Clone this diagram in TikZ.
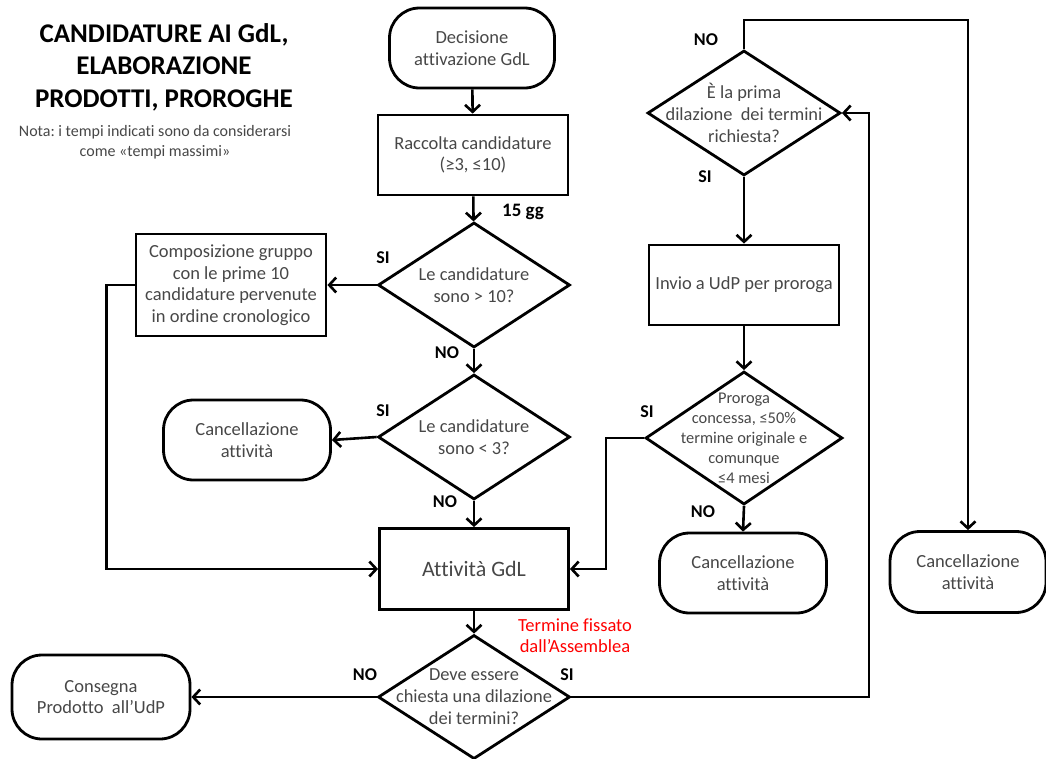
\documentclass[tikz,border=0pt]{standalone}
\usepackage{fontspec}
\setmainfont{Carlito}[Ligatures=NoCommon]
\frenchspacing
\usetikzlibrary{arrows.meta,shapes.geometric}
\tikzset{box/.style={draw,line width=2.8pt,align=center,text=black!72,font=\fontsize{18.5}{21.5}\selectfont,inner sep=2pt},term/.style={box,rounded corners=30pt},decision/.style={diamond,draw,line width=2.8pt,inner sep=0pt},dtext/.style={align=center,text=black!72,font=\fontsize{18.4}{22}\selectfont},edge/.style={-{Straight Barb[length=7pt,width=15pt]},line width=2.6pt},tag/.style={font=\fontsize{18}{20}\selectfont\bfseries}}

\begin{document}
\begin{tikzpicture}[x=1pt,y=-1pt]
\useasboundingbox (0,0) rectangle (1046,758);
% titolo e nota
\node[align=center,font=\fontsize{27}{32.5}\selectfont\bfseries] (title) at (164,67) {CANDIDATURE AI GdL,\\ELABORAZIONE\\PRODOTTI, PROROGHE};
\node[align=center,text=black!72,font=\fontsize{16}{20}\selectfont] (nota) at (155,142) {Nota: i tempi indicati sono da considerarsi\\come «tempi massimi»};
% colonna centrale
\node[term,minimum width=165pt,minimum height=80pt] (dec) at (472,48) {Decisione\\attivazione GdL};
\node[box,minimum width=190pt,minimum height=80pt] (racc) at (473,155) {Raccolta candidature\\(≥3, ≤10)};
\node[decision,minimum width=192pt,minimum height=125pt,label={[dtext]center:{Le candidature\\sono > 10?}}] (q1) at (474,285) {};
\node[box,minimum width=190pt,minimum height=102pt] (comp) at (231,285) {Composizione gruppo\\con le prime 10\\candidature pervenute\\in ordine cronologico};
\node[decision,minimum width=192pt,minimum height=125pt,label={[dtext]center:{Le candidature\\sono < 3?}}] (q2) at (474,437) {};
\node[term,minimum width=167pt,minimum height=80pt] (canc1) at (247,440) {Cancellazione\\attività};
\node[box,minimum width=189pt,minimum height=81pt,font=\fontsize{22}{25}\selectfont] (att) at (474,569) {Attività GdL};
\node[align=center,text=red,font=\fontsize{18.5}{21}\selectfont] (term) at (575,636) {Termine fissato\\dall'Assemblea};
\node[decision,minimum width=192pt,minimum height=124pt,label={[dtext]center:{Deve essere\\chiesta una dilazione\\dei termini?}}] (q3) at (474,697) {};
\node[term,minimum width=178pt,minimum height=84pt] (cons) at (101,697) {Consegna\\Prodotto~ all'UdP};
% colonna destra
\node[decision,minimum width=193pt,minimum height=125pt,label={[dtext]center:{È la prima\\dilazione~ dei termini\\richiesta?}}] (q4) at (744,113) {};
\node[box,minimum width=190pt,minimum height=80pt] (invio) at (744,285) {Invio a UdP per proroga};
\node[decision,minimum width=197pt,minimum height=133pt,label={[dtext,font=\fontsize{16.4}{20}\selectfont]center:{Proroga\\concessa, ≤50\%\\termine originale e\\comunque\\≤4 mesi}}] (q5) at (744,438) {};
\node[term,minimum width=167pt,minimum height=80pt] (canc2) at (743,573) {Cancellazione\\attività};
\node[term,minimum width=156pt,minimum height=81pt] (canc3) at (968,572) {Cancellazione\\attività};
% collegamenti
\draw[edge] (dec)--(racc);
\draw[edge] (racc)--(q1);
\draw[edge] (q1.west)--(comp.east);
\draw[edge] (comp.west)--++(-28,0)|-(att.west);
\draw[edge] (q1.south)--(q2.north);
\draw[edge] (q2.west)--(canc1.east);
\draw[edge] (q2.south)--(att.north);
\draw[edge] (att.south)--(q3.north);
\draw[edge] (q3.west)--(cons.east);
\draw[edge] (q3.east)-|([xshift=27pt]q4.east)--(q4.east);
\draw[edge] (q4.north)--++(0,-29)-|(canc3.north);
\draw[edge] (q4.south)--(invio.north);
\draw[edge] (invio.south)--(q5.north);
\draw[edge] (q5.west)--++(-38,0)|-(att.east);
\draw[edge] (q5.south)--(canc2.north);
% etichette
\node[tag,font=\fontsize{19}{21}\selectfont\bfseries] (gg) at (523,212) {15 gg};
\node[tag] (si1) at (383,258) {SI};\node[tag] (no1) at (447,353) {NO};
\node[tag] (si2) at (383,411) {SI};\node[tag] (no2) at (445,502) {NO};
\node[tag] (no3) at (365,675) {NO};\node[tag] (si3) at (567,675) {SI};
\node[tag] (no4) at (706,40) {NO};\node[tag] (si4) at (705,177) {SI};
\node[tag] (si5) at (647,412) {SI};\node[tag] (no5) at (703,512) {NO};
\end{tikzpicture}
\end{document}
